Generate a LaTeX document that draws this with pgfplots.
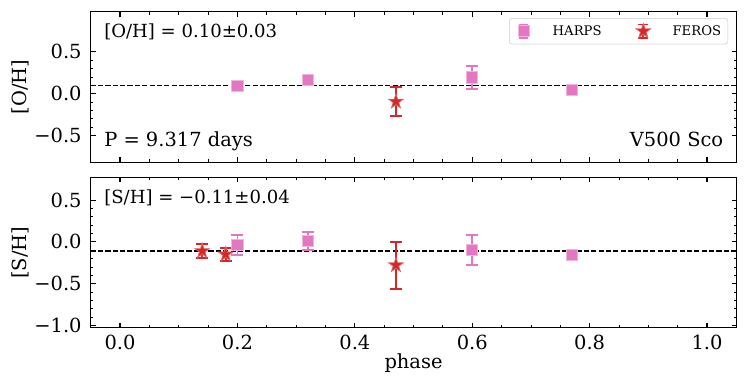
\documentclass[border=0pt]{standalone}
\usepackage{fontspec}
\setmainfont{DejaVu Serif}
\usepackage{pgfplots}
\pgfplotsset{compat=1.18}
\definecolor{tabpink}{HTML}{E377C2}
\definecolor{tabred}{HTML}{D62728}
\pgfdeclareplotmark{fstar}{%
  \pgfpathmoveto{\pgfpointpolar{90}{\pgfplotmarksize}}%
  \pgfpathlineto{\pgfpointpolar{126}{0.382\pgfplotmarksize}}%
  \pgfpathlineto{\pgfpointpolar{162}{\pgfplotmarksize}}%
  \pgfpathlineto{\pgfpointpolar{198}{0.382\pgfplotmarksize}}%
  \pgfpathlineto{\pgfpointpolar{234}{\pgfplotmarksize}}%
  \pgfpathlineto{\pgfpointpolar{270}{0.382\pgfplotmarksize}}%
  \pgfpathlineto{\pgfpointpolar{306}{\pgfplotmarksize}}%
  \pgfpathlineto{\pgfpointpolar{342}{0.382\pgfplotmarksize}}%
  \pgfpathlineto{\pgfpointpolar{18}{\pgfplotmarksize}}%
  \pgfpathlineto{\pgfpointpolar{54}{0.382\pgfplotmarksize}}%
  \pgfpathclose
  \pgfusepathqfillstroke
}
\pgfplotsset{
  panel/.style={
    scale only axis, width=464.9pt, height=108.3pt,
    xmin=-0.05, xmax=1.05,
    xtick={0,0.2,0.4,0.6,0.8,1.0}, minor x tick num=3,
    minor y tick num=4,
    major tick length=3.5pt, minor tick length=2pt,
    every tick/.style={black, line width=0.8pt},
    every minor tick/.append style={line width=0.6pt},
    axis line style={line width=0.8pt},
    tick label style={font=\fontsize{14}{16}\selectfont},
    yticklabel style={xshift=-3pt},
    xticklabel style={yshift=-1.8pt},
    every axis y label/.style={at={(axis description cs:-0.1095,0.5)}, anchor=center, rotate=90, font=\fontsize{14}{16}\selectfont},
    every axis x label/.style={at={(axis description cs:0.5,-0.233)}, anchor=center, font=\fontsize{14}{16}\selectfont},
  },
  harps/.style={only marks, mark=square*, mark size=4pt,
    mark options={fill=tabpink, draw=tabpink!55!white, line width=0.6pt},
    error bars/y dir=both, error bars/y explicit,
    error bars/error bar style={tabpink, line width=1.3pt},
    error bars/error mark options={rotate=90, mark size=4.3pt, line width=1.3pt, tabpink},
    legend image code/.code={
      \path (0cm,0cm) (0.6cm,0cm);
      \draw[tabpink, line width=1.3pt] (0.3cm,-4.8pt)--(0.3cm,4.8pt);
      \draw[tabpink, line width=1.3pt] (0.3cm-3.5pt,-4.8pt)--(0.3cm+3.5pt,-4.8pt);
      \draw[tabpink, line width=1.3pt] (0.3cm-3.5pt,4.8pt)--(0.3cm+3.5pt,4.8pt);
      \draw[##1] plot coordinates {(0.3cm,0cm)};
    }},
  feros/.style={only marks, mark=fstar, mark size=5.6pt,
    mark options={fill=tabred, draw=tabred!70!white, line width=0.5pt},
    error bars/y dir=both, error bars/y explicit,
    error bars/error bar style={tabred, line width=1.3pt},
    error bars/error mark options={rotate=90, mark size=4.3pt, line width=1.3pt, tabred},
    legend image code/.code={
      \path (0cm,0cm) (0.6cm,0cm);
      \draw[tabred, line width=1.3pt] (0.3cm,-4.8pt)--(0.3cm,4.8pt);
      \draw[tabred, line width=1.3pt] (0.3cm-3.5pt,-4.8pt)--(0.3cm+3.5pt,-4.8pt);
      \draw[tabred, line width=1.3pt] (0.3cm-3.5pt,4.8pt)--(0.3cm+3.5pt,4.8pt);
      \draw[##1] plot coordinates {(0.3cm,0cm)};
    }},
}
\begin{document}
\begin{tikzpicture}
\path[use as bounding box] (-65.3pt,-37.4pt) rectangle (474.7pt,236.1pt);
% top panel
\begin{axis}[panel, at={(0pt,119.3pt)}, anchor=south west,
  ymin=-0.82, ymax=0.98,
  ytick={-0.5,0,0.5}, yticklabels={−0.5,0.0,0.5},
  xticklabels={{},{},{},{},{},{}},
  ylabel={[O/H]},
  legend columns=2,
  legend style={at={(axis description cs:1,1)}, anchor=north east, xshift=-6pt, yshift=-4.5pt,
    draw=black!20, rounded corners=2pt, font=\fontsize{9.5}{11}\selectfont,
    inner xsep=1.5pt, inner ysep=3pt,
    nodes={inner xsep=3.3pt},
    /tikz/every odd column/.append style={column sep=9pt},
    /tikz/every even column/.append style={column sep=18pt}},
]
\addplot[black, line width=1pt, dash pattern=on 3.7pt off 1.6pt, forget plot] coordinates {(-0.05,0.10) (1.05,0.10)};
\addplot[harps] table[x=x, y=y, y error=e] {
x y e
0.20 0.09 0.03
0.32 0.16 0.03
0.60 0.195 0.135
0.77 0.045 0.03
};
\addlegendentry{HARPS}
\addplot[feros] table[x=x, y=y, y error=e] {
x y e
0.47 -0.095 0.175
};
\addlegendentry{FEROS}
\node[anchor=base west, inner sep=0, font=\fontsize{13}{15}\selectfont] at (axis description cs:0.0206,0.828) {[O/H] = 0.10±0.03};
\node[anchor=base west, inner sep=0, font=\fontsize{14}{16}\selectfont] at (axis description cs:0.0206,0.104) {P = 9.317 days};
\node[anchor=base east, inner sep=0, font=\fontsize{14}{16}\selectfont] at (axis description cs:0.98,0.104) {V500 Sco};
\end{axis}
% bottom panel
\begin{axis}[panel, at={(0pt,0pt)}, anchor=south west,
  ymin=-1.03, ymax=0.77,
  ytick={-1,-0.5,0,0.5}, yticklabels={−1.0,−0.5,0.0,0.5},
  xticklabels={0.0,0.2,0.4,0.6,0.8,1.0},
  ylabel={[S/H]}, xlabel={phase},
]
\addplot[black, line width=1pt, dash pattern=on 3.7pt off 1.6pt, forget plot] coordinates {(-0.05,-0.11) (1.05,-0.11)};
\addplot[harps] table[x=x, y=y, y error=e] {
x y e
0.20 -0.035 0.12
0.32 0.012 0.107
0.60 -0.095 0.178
0.77 -0.155 0.03
};
\addplot[feros] table[x=x, y=y, y error=e] {
x y e
0.14 -0.11 0.085
0.18 -0.15 0.08
0.47 -0.28 0.28
};
\node[anchor=base west, inner sep=0, font=\fontsize{13}{15}\selectfont] at (axis description cs:0.0206,0.828) {[S/H] = −0.11±0.04};
\end{axis}
\end{tikzpicture}
\end{document}
